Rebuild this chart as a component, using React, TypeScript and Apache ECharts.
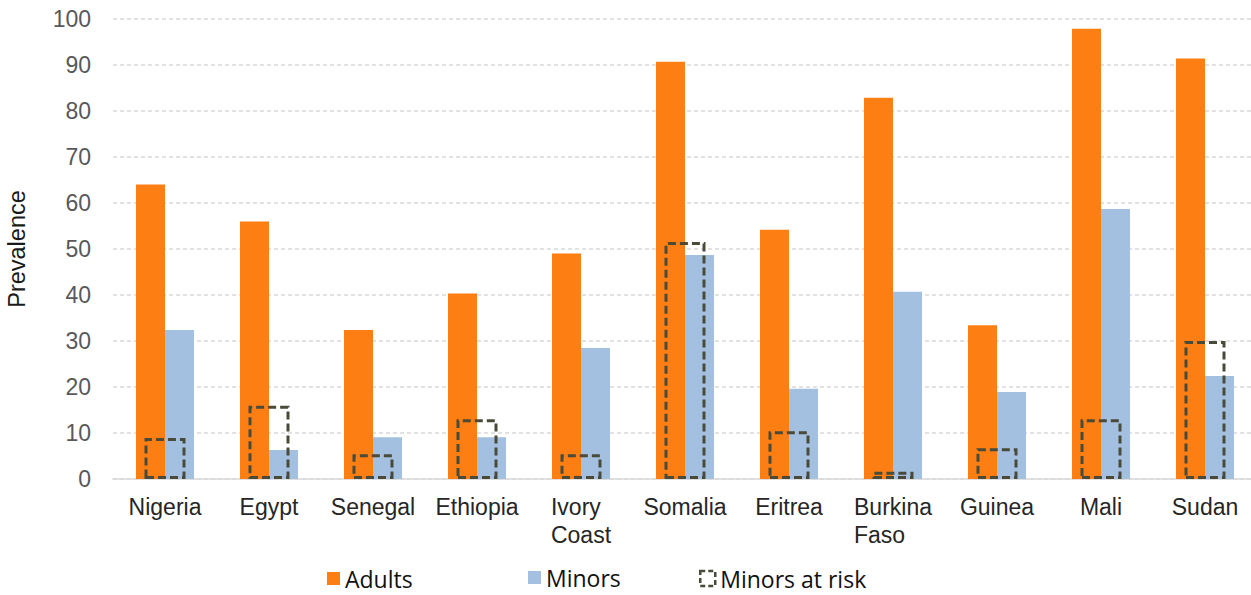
import React, { useEffect, useRef } from "react";
import * as echarts from "echarts";

const categories = [
  "Nigeria",
  "Egypt",
  "Senegal",
  "Ethiopia",
  "Ivory\nCoast",
  "Somalia",
  "Eritrea",
  "Burkina\nFaso",
  "Guinea",
  "Mali",
  "Sudan",
];
const adults = [64, 56, 32.4, 40.3, 49, 90.7, 54.2, 82.9, 33.4, 97.9, 91.4];
const minors = [32.4, 6.3, 9.1, 9.1, 28.5, 48.7, 19.6, 40.7, 18.9, 58.7, 22.4];
const minorsAtRisk = [8.9, 15.9, 5.4, 13, 5.4, 51.5, 10.4, 1.6, 6.7, 13, 30];
const yTicks = { min: 0, max: 100, interval: 10 };

const ORANGE = "#fd7f14";
const BLUE = "#a4c0e0";
const DASH = "#4a4a38";

export default function App() {
  const ref = useRef<HTMLDivElement>(null);
  useEffect(() => {
    if (!ref.current) return;
    const chart = echarts.init(ref.current, null, { renderer: "svg" });
    const legendText = { fontFamily: "Open Sans", fontSize: 23, color: "#111" };
    chart.setOption({
      animation: false,
      backgroundColor: "#fff",
      grid: {
        left: 113,
        width: 1144,
        top: 19,
        height: 460,
        outerBoundsMode: "none",
        containLabel: false,
      },
      legend: [
        {
          data: [{ name: "Adults", icon: "rect" }],
          left: 327,
          top: 567,
          padding: 0,
          itemWidth: 13,
          itemHeight: 13,
          itemGap: 6,
          textStyle: legendText,
          selectedMode: false,
        },
        {
          data: [{ name: "Minors", icon: "rect" }],
          left: 528,
          top: 566,
          padding: 0,
          itemWidth: 13,
          itemHeight: 13,
          textStyle: legendText,
          selectedMode: false,
        },
        {
          data: [
            {
              name: "Minors at risk",
              icon: "rect",
              itemStyle: {
                color: "rgba(0,0,0,0)",
                borderColor: DASH,
                borderWidth: 2.5,
                borderType: [5, 3],
              },
            },
          ],
          left: 699,
          top: 567,
          padding: 0,
          itemWidth: 15,
          itemHeight: 15,
          textStyle: legendText,
          selectedMode: false,
        },
      ],
      xAxis: [
        {
          type: "category",
          data: categories,
          axisLine: { show: true, lineStyle: { color: "#d9d9d9", width: 1.5 } },
          axisTick: { show: false },
          axisLabel: {
            margin: 14,
            interval: 0,
            fontFamily: "Liberation Sans",
            fontSize: 23,
            color: "#262626",
            formatter: (v: string) =>
              v
                .split("\n")
                .map((s) => `{l|${s}}`)
                .join("\n"),
            rich: {
              l: {
                align: "left",
                fontFamily: "Liberation Sans",
                fontSize: 23,
                color: "#262626",
                lineHeight: 28,
              },
            },
          },
        },
        {
          type: "category",
          data: categories,
          show: false,
        },
      ],
      yAxis: {
        type: "value",
        min: yTicks.min,
        max: yTicks.max,
        interval: yTicks.interval,
        name: "Prevalence",
        nameLocation: "middle",
        nameGap: 84,
        nameTextStyle: {
          fontFamily: "Liberation Sans",
          fontSize: 23.5,
          color: "#1a1a1a",
        },
        axisLine: { show: false },
        axisTick: { show: false },
        axisLabel: {
          margin: 22,
          fontFamily: "Liberation Sans",
          fontSize: 23,
          color: "#595959",
        },
        splitLine: {
          lineStyle: { color: "#d9d9d9", type: [4, 3], width: 1.5 },
        },
      },
      series: [
        {
          name: "Adults",
          type: "bar",
          xAxisIndex: 0,
          data: adults,
          barWidth: 29,
          barGap: "0%",
          itemStyle: { color: ORANGE },
        },
        {
          name: "Minors",
          type: "bar",
          xAxisIndex: 0,
          data: minors,
          barWidth: 29,
          barGap: "0%",
          itemStyle: { color: BLUE },
        },
        {
          name: "Minors at risk",
          type: "bar",
          xAxisIndex: 1,
          data: minorsAtRisk,
          barWidth: 41,
          z: 5,
          itemStyle: {
            color: "rgba(0,0,0,0)",
            borderColor: DASH,
            borderWidth: 3,
            borderType: [8, 4],
          },
        },
      ],
    });
    return () => chart.dispose();
  }, []);
  return (
    <div
      ref={ref}
      style={{ position: "fixed", left: 0, top: 0, width: 1251, height: 595 }}
    />
  );
}
